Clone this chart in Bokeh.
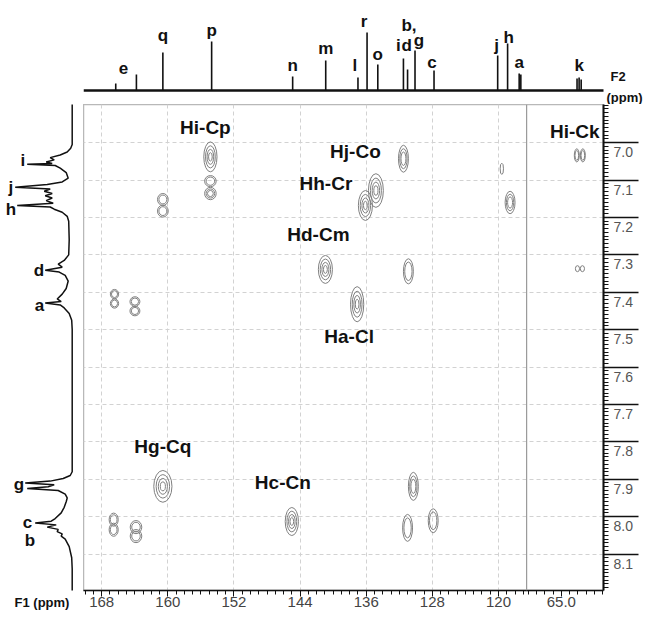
import numpy as np
from bokeh.plotting import figure
from bokeh.layouts import column, row
from bokeh.models import Range1d, FixedTicker, Span, ColumnDataSource, Spacer
from bokeh.core.properties import value
from bokeh.embed import file_html
from bokeh.resources import INLINE

FONT = "Liberation Sans"

# ---------------- data ----------------
# 1D 13C projection (F2, top): peak positions (ppm) and intensities (arb. units)
C13_PPM = [166.3, 163.8, 160.6, 154.7, 144.9, 140.9, 137.0, 135.9, 134.6, 131.5,
           131.0, 130.1, 127.8, 120.1, 118.9, 117.5, 117.3, 63.1, 62.85, 62.6]
C13_INT = [7, 16, 38, 49, 14, 30, 13, 58, 26, 32,
           21, 40, 20, 35, 47, 17, 16, 12, 13, 11]
# assignment letters of the 13C peaks and the peak each one marks
C13_LABELS = ["e", "q", "p", "n", "m", "l", "r", "o", "i", "d", "b,", "g", "c", "j", "h", "a", "k"]
C13_LABEL_PEAK = [163.8, 160.6, 154.7, 144.9, 140.9, 137.0, 135.9, 134.6, 131.5, 131.0,
                  130.1, 130.1, 127.8, 120.1, 118.9, 117.5, 62.85]

# 1D 1H projection (F1, left): traced (ppm, intensity) points
H1_PPM = [6.880, 7.005, 7.015, 7.025, 7.033, 7.040, 7.046, 7.052, 7.056, 7.058,
          7.061, 7.068, 7.080, 7.095, 7.105, 7.112, 7.119, 7.124, 7.130, 7.136,
          7.142, 7.148, 7.155, 7.162, 7.168, 7.172, 7.178, 7.186, 7.197, 7.210,
          7.260, 7.300, 7.315, 7.325, 7.333, 7.341, 7.346, 7.355, 7.370, 7.390,
          7.405, 7.418, 7.425, 7.429, 7.434, 7.442, 7.457, 7.475, 7.500, 7.880,
          7.890, 7.898, 7.905, 7.910, 7.915, 7.920, 7.925, 7.930, 7.940, 7.950,
          7.960, 7.975, 7.990, 8.005, 8.012, 8.017, 8.022, 8.028, 8.034, 8.040,
          8.046, 8.052, 8.060, 8.080, 8.110, 8.140, 8.220]
H1_INT = [0, 0, 1.5, 5, 12, 22, 18, 26, 20, 45,
          17, 12, 6, 4, 10, 25, 57, 22, 28, 20,
          27, 20, 26, 19, 55, 22, 18, 10, 5, 3.5,
          3, 3.5, 8, 14, 10, 27, 13, 7, 4, 6,
          10, 15, 11, 27, 12, 8, 3, 0.5, 0, 0,
          2, 9, 22, 47, 18, 24, 45, 14, 7, 5,
          6, 8, 11, 17, 21, 37, 16, 25, 14, 15,
          10, 11, 7, 3, 0.5, 0, 0]
H1_LABELS = ["i", "j", "h", "d", "a", "g", "c", "b"]
H1_LABEL_PPM = [7.058, 7.119, 7.168, 7.341, 7.429, 7.910, 8.017, 8.028]

# 2D cross peaks: 13C ppm, 1H ppm, 13C extent, 1H extent (ppm), contour levels
CROSS_C = [154.85, 154.85, 154.85, 160.6, 160.6, 131.5, 134.83, 136.1, 118.6, 119.6,
           63.13, 62.40, 63.05, 62.45, 140.94, 130.9, 137.1, 166.45, 166.45, 163.98,
           163.98, 160.6, 145.0, 130.3, 131.0, 127.9, 166.55, 166.55, 163.85, 163.85]
CROSS_H = [7.038, 7.103, 7.136, 7.152, 7.183, 7.043, 7.128, 7.168, 7.160, 7.070,
           7.034, 7.034, 7.337, 7.337, 7.339, 7.344, 7.432, 7.405, 7.430, 7.425,
           7.450, 7.919, 8.013, 7.919, 8.030, 8.011, 8.008, 8.035, 8.028, 8.052]
CROSS_WC = [1.6, 1.4, 1.4, 1.3, 1.3, 1.2, 1.8, 1.7, 1.2, 0.4,
            0.6, 0.6, 0.5, 0.5, 1.7, 1.2, 1.6, 1.0, 1.0, 1.2,
            1.2, 2.2, 1.6, 1.2, 1.2, 1.2, 1.1, 1.1, 1.4, 1.4]
CROSS_WH = [0.080, 0.030, 0.033, 0.032, 0.032, 0.072, 0.090, 0.080, 0.060, 0.030,
            0.035, 0.035, 0.016, 0.016, 0.075, 0.067, 0.094, 0.025, 0.025, 0.026,
            0.026, 0.085, 0.075, 0.075, 0.072, 0.064, 0.035, 0.035, 0.035, 0.035]
CROSS_LEVELS = [4, 2, 3, 2, 2, 3, 4, 4, 3, 1,
                2, 2, 1, 1, 4, 2, 4, 2, 2, 2,
                2, 4, 4, 3, 2, 2, 2, 2, 2, 2]
CROSS_LABELS = ["Hi-Cp", "Hj-Co", "Hh-Cr", "Hd-Cm", "Ha-Cl", "Hg-Cq", "Hc-Cn", "Hi-Ck"]
CROSS_LABEL_PEAK = [0, 5, 6, 14, 16, 21, 22, 10]

# axes
X_TICK_PPM = [168, 160, 152, 144, 136, 128, 120, 65.0]
X_TICK_LABELS = ["168", "160", "152", "144", "136", "128", "120", "65.0"]
Y_TICK_PPM = [7.0, 7.1, 7.2, 7.3, 7.4, 7.5, 7.6, 7.7, 7.8, 7.9, 8.0, 8.1]
Y_TICK_LABELS = ["7.0", "7.1", "7.2", "7.3", "7.4", "7.5", "7.6", "7.7", "7.8", "7.9", "8.0", "8.1"]

# ---------------- layout / style ----------------
C_MAIN_HI, C_MAIN_LO = 170.2, 116.6     # main 13C window (ppm)
C_INSET_HI, C_INSET_LO = 69.2, 59.9     # window after the axis break (ppm)
H_TOP = 6.898
PX_PER_H = 374.0
FRAME_W, FRAME_H = 520, 486
LEFT_W, TOP_H, RIGHT_W = 83, 104, 47
TOP_YMIN, TOP_YMAX = -14, 90            # top projection vertical window (intensity)
LEFT_XMAX, LEFT_XMIN = 71.7, -11.3      # left projection horizontal window (intensity)
H_BOTTOM = H_TOP + FRAME_H / PX_PER_H
SHIFT = C_MAIN_LO - C_INSET_HI


def cu(v):
    a = np.asarray(v, dtype=float)
    return np.where(a > 100, a, a + SHIFT)


def cu1(v):
    return float(v if v > 100 else v + SHIFT)


U_LEFT, U_BREAK, U_RIGHT = C_MAIN_HI, C_MAIN_LO, C_INSET_LO + SHIFT
PX_PER_U = FRAME_W / (U_LEFT - U_RIGHT)

C13_DX = [-13, 0, 0, 0, 0, -3, -3, 0, -5, -1, -6, 4, -2, -1, 1, 0, 0]
C13_DY = [-7, -17, -11, -11, -12, -12, -11, -10, -13, -24, -25, -10, -8, -10, -6, -11, -12]
H1_DX = [-2, -2, -1, -1, -1, -1, -3, -12]
H1_DY = [-4, 0, 4, 0, 2, 2, -1, 13]
CROSS_DX = [-5, -48, -50, -7, -8, 0, -9, -2]
CROSS_DY = [-29, -7, -7, -35, 32, -40, -39, -24]
LEVEL_SCALE = [1.0, 0.74, 0.5, 0.28]
INK = "#111111"

yr = Range1d(H_BOTTOM, H_TOP)

# ---------------- top 13C projection ----------------
top = figure(width=FRAME_W + RIGHT_W, height=TOP_H,
             x_range=Range1d(U_LEFT, U_LEFT - (FRAME_W + RIGHT_W) / PX_PER_U),
             y_range=Range1d(TOP_YMIN, TOP_YMAX),
             toolbar_location=None, output_backend="svg",
             x_axis_location=None, y_axis_location=None,
             min_border=0, outline_line_color=None)
top.grid.visible = False
top.segment(x0=[U_LEFT], y0=[0], x1=[U_RIGHT], y1=[0], line_width=2.5, line_color=INK)
cx = cu(C13_PPM)
top.segment(x0=cx, y0=np.zeros(len(cx)), x1=cx, y1=C13_INT, line_width=1.6, line_color=INK)
lab_src = ColumnDataSource(dict(
    x=[cu1(v) for v in C13_LABEL_PEAK],
    y=[C13_INT[C13_PPM.index(v)] for v in C13_LABEL_PEAK],
    t=C13_LABELS, dx=C13_DX, dy=C13_DY))
top.text(x="x", y="y", text="t", x_offset="dx", y_offset="dy", source=lab_src,
         text_align="center", text_baseline="alphabetic", text_color=INK,
         text_font=value(FONT), text_font_style="bold", text_font_size="17px")
top.text(x=[U_RIGHT], y=[0], text=["F2"], x_offset=7, y_offset=-14,
         text_align="left", text_baseline="alphabetic", text_color=INK,
         text_font=value(FONT), text_font_style="bold", text_font_size="13px")
top.text(x=[U_RIGHT], y=[TOP_YMIN], text=["(ppm)"], x_offset=3, y_offset=0,
         text_align="left", text_baseline="bottom", text_color=INK,
         text_font=value(FONT), text_font_style="bold", text_font_size="13px")

# ---------------- left 1H projection ----------------
left = figure(frame_width=LEFT_W, frame_height=FRAME_H,
              x_range=Range1d(LEFT_XMAX, LEFT_XMIN), y_range=yr,
              toolbar_location=None, output_backend="svg",
              y_axis_location=None,
              min_border_left=0, min_border_right=0, min_border_top=0,
              min_border_bottom=0, outline_line_color=None)
left.grid.visible = False
lax = left.xaxis[0]
lax.ticker = FixedTicker(ticks=[])
lax.axis_line_color = None
lax.major_tick_out = 0
lax.major_tick_in = 0
lax.minor_tick_out = 0
lax.minor_tick_in = 0
lax.major_label_standoff = 0
lax.axis_label = "F1 (ppm)"
lax.axis_label_standoff = 4
lax.axis_label_text_font = FONT
lax.axis_label_text_font_size = "13px"
lax.axis_label_text_font_style = "bold"
lax.axis_label_text_color = INK
left.line(H1_INT, H1_PPM, line_width=1.5, line_color=INK)
hl_src = ColumnDataSource(dict(
    x=[H1_INT[H1_PPM.index(v)] for v in H1_LABEL_PPM],
    y=H1_LABEL_PPM, t=H1_LABELS, dx=H1_DX, dy=H1_DY))
left.text(x="x", y="y", text="t", x_offset="dx", y_offset="dy", source=hl_src,
          text_align="right", text_baseline="middle", text_color=INK,
          text_font=value(FONT), text_font_style="bold", text_font_size="17px")

# ---------------- main 2D plot ----------------
p = figure(frame_width=FRAME_W, frame_height=FRAME_H,
           x_range=Range1d(U_LEFT, U_RIGHT), y_range=yr,
           toolbar_location=None, output_backend="svg",
           y_axis_location="right",
           min_border_left=0, min_border_top=0, min_border_right=RIGHT_W,
           min_border_bottom=0, outline_line_color="#b8b8b8", outline_line_width=1.5)

x_tick_u = [cu1(v) for v in X_TICK_PPM]
x_minor = [float(v) for v in np.arange(117, 171)] + [cu1(float(v)) for v in np.arange(60, 70)]
xa = p.xaxis[0]
xa.ticker = FixedTicker(ticks=x_tick_u, minor_ticks=x_minor)
xa.major_label_overrides = {u: t for u, t in zip(x_tick_u, X_TICK_LABELS)}
xa.major_tick_out = 6
xa.major_tick_in = 0
xa.minor_tick_out = 4
xa.minor_tick_in = 0
xa.axis_line_width = 1.5
xa.axis_line_color = INK
xa.major_tick_line_color = INK
xa.minor_tick_line_color = INK
xa.major_label_standoff = 0
xa.major_label_text_font = FONT
xa.major_label_text_font_size = "15px"
xa.major_label_text_color = "#444444"

y_minor = [round(6.90 + 0.01 * i, 2) for i in range(130)]
ya = p.yaxis[0]
ya.ticker = FixedTicker(ticks=Y_TICK_PPM, minor_ticks=y_minor)
ya.major_label_overrides = {v: "\n" + t for v, t in zip(Y_TICK_PPM, Y_TICK_LABELS)}
ya.major_tick_out = 35
ya.major_tick_in = 0
ya.minor_tick_out = 5
ya.minor_tick_in = 0
ya.axis_line_width = 2
ya.axis_line_color = INK
ya.major_tick_line_width = 1.5
ya.major_tick_line_color = INK
ya.minor_tick_line_color = INK
ya.major_label_standoff = -25
ya.major_label_text_font = FONT
ya.major_label_text_font_size = "14px"
ya.major_label_text_color = "#555555"

p.xgrid.ticker = FixedTicker(ticks=x_tick_u[:-1])
p.ygrid.ticker = FixedTicker(ticks=Y_TICK_PPM)
p.grid.grid_line_color = "#d2d2d2"
p.grid.grid_line_dash = "4 3"
p.grid.grid_line_width = 1

p.add_layout(Span(location=U_BREAK, dimension="height", line_color="#9a9a9a", line_width=1.2))

ex, ey, ew, eh = [], [], [], []
for c, h, wc, wh, lv in zip(CROSS_C, CROSS_H, CROSS_WC, CROSS_WH, CROSS_LEVELS):
    for k in range(lv):
        s = LEVEL_SCALE[k]
        ex.append(cu1(c))
        ey.append(h)
        ew.append(wc * s)
        eh.append(wh * s)
p.ellipse(x=ex, y=ey, width=ew, height=eh, fill_color=None,
          line_color="#808080", line_width=1)

cl_src = ColumnDataSource(dict(
    x=[cu1(CROSS_C[i]) for i in CROSS_LABEL_PEAK],
    y=[CROSS_H[i] for i in CROSS_LABEL_PEAK],
    t=CROSS_LABELS, dx=CROSS_DX, dy=CROSS_DY))
p.text(x="x", y="y", text="t", x_offset="dx", y_offset="dy", source=cl_src,
       text_align="center", text_baseline="middle", text_color=INK,
       text_font=value(FONT), text_font_style="bold", text_font_size="19px")

layout = column(row(Spacer(width=LEFT_W, height=TOP_H), top), row(left, p))
open("out.html", "w").write(file_html(layout, INLINE))
